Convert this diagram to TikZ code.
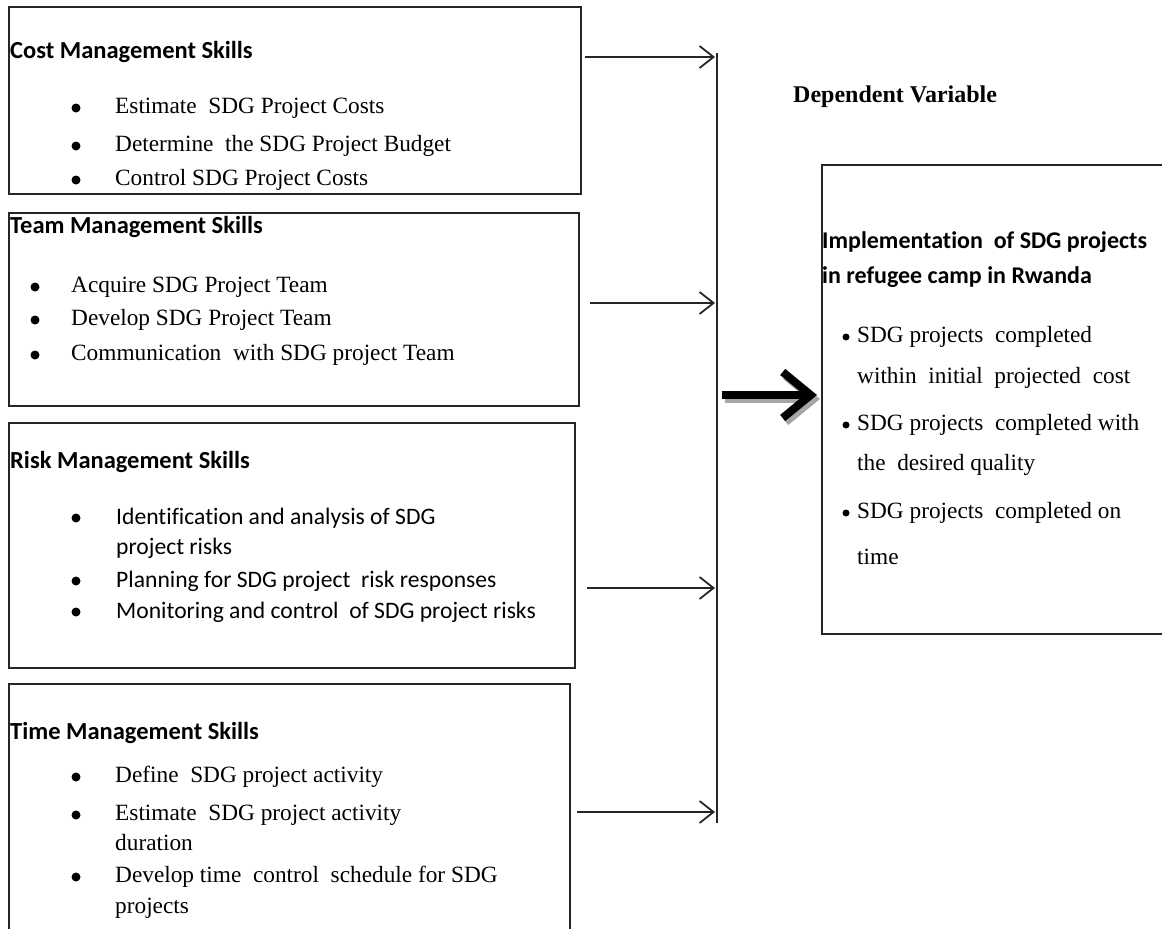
\documentclass[tikz,border=0pt]{standalone}
\usepackage{fontspec}
\setmainfont{Liberation Serif}
\newfontfamily\calfont[Ligatures=NoCommon]{Carlito}
\usetikzlibrary{arrows.meta}
\tikzset{
  box/.style={draw=black!85, line width=1.6pt, anchor=north west, inner sep=0pt},
  ttl/.style={anchor=west, inner sep=0pt, font=\calfont\bfseries\fontsize{24.5}{28}\selectfont},
  rttl/.style={anchor=west, inner sep=0pt, font=\calfont\bfseries\fontsize{24}{28}\selectfont},
  itm/.style={anchor=west, inner sep=0pt, font=\fontsize{23.3}{27}\selectfont},
  citm/.style={anchor=west, inner sep=0pt, font=\calfont\fontsize{23.6}{27}\selectfont},
  bul/.style={circle, fill=black, inner sep=0pt, minimum size=9pt},
  sbul/.style={circle, fill=black, inner sep=0pt, minimum size=7pt},
  thin/.style={draw=black!85, line width=1.8pt, -{Straight Barb[length=14pt,width=22pt,line width=1.8pt]}},
  bar/.style={draw=black!85, line width=1.8pt},
  thick/.style={draw=black, line width=8pt, -{Straight Barb[length=28pt,width=46pt,line width=8pt]}}
}
\begin{document}
\begin{tikzpicture}[x=1pt,y=-1pt]
\clip (0,0) rectangle (1162,929);
\fill[white] (0,0) rectangle (1162,929);

% boxes
\node[box, minimum width=572pt, minimum height=187pt] (cost) at (8,6) {};
\node[box, minimum width=570pt, minimum height=193pt] (team) at (8,212) {};
\node[box, minimum width=566pt, minimum height=245pt] (risk) at (8,422) {};
\node[box, minimum width=561pt, minimum height=280pt] (time) at (8,683) {};
\node[box, minimum width=380pt, minimum height=469pt] (dep) at (821,164) {};

% cost
\node[ttl] (costT) at (10,52) {Cost Management Skills};
\node[bul] (cb1) at (76,108) {}; \node[itm] (c1) at (115,108) {Estimate\ \ SDG Project Costs};
\node[bul] (cb2) at (76,146) {}; \node[itm] (c2) at (115,146) {Determine\ \ the SDG Project Budget};
\node[bul] (cb3) at (76,180) {}; \node[itm] (c3) at (115,180) {Control SDG Project Costs};

% team
\node[ttl] (teamT) at (10,227) {Team Management Skills};
\node[bul] (tb1) at (35,287) {}; \node[itm] (t1) at (71,287) {Acquire SDG Project Team};
\node[bul] (tb2) at (35,320) {}; \node[itm] (t2) at (71,320) {Develop SDG Project Team};
\node[bul] (tb3) at (35,355) {}; \node[itm] (t3) at (71,355) {Communication\ \ with SDG project Team};

% risk
\node[ttl] (riskT) at (10,462) {Risk Management Skills};
\node[bul] (rb1) at (76,518) {}; \node[citm] (r1) at (116,518) {Identification and analysis of SDG};
\node[citm] (r1b) at (116,548) {project risks};
\node[bul] (rb2) at (76,581) {}; \node[citm] (r2) at (116,581) {Planning for SDG project\ \ risk responses};
\node[bul] (rb3) at (76,612) {}; \node[citm] (r3) at (116,612) {Monitoring and control\ \ of SDG project risks};

% time
\node[ttl] (timeT) at (10,733) {Time Management Skills};
\node[bul] (mb1) at (76,777) {}; \node[itm] (m1) at (115,777) {Define\ \ SDG project activity};
\node[bul] (mb2) at (76,815) {}; \node[itm] (m2) at (115,815) {Estimate\ \ SDG project activity};
\node[itm] (m2b) at (115,843) {duration};
\node[bul] (mb3) at (76,877) {}; \node[itm] (m3) at (115,877) {Develop time\ \ control\ \ schedule for SDG};
\node[itm] (m3b) at (115,908) {projects};

% dependent
\node[anchor=west, inner sep=0pt, font=\bfseries\fontsize{24}{28}\selectfont] (depH) at (793,97) {Dependent Variable};
\node[rttl] (d0) at (822,242) {Implementation\ \ of SDG projects};
\node[rttl] (d0b) at (822,277) {in refugee camp in Rwanda};
\node[sbul] (db1) at (846,337) {}; \node[itm] (d1) at (857,337) {SDG projects\ \ completed};
\node[itm] (d1b) at (857,378) {within\ \ initial\ \ projected\ \ cost};
\node[sbul] (db2) at (846,425) {}; \node[itm] (d2) at (857,425) {SDG projects\ \ completed with};
\node[itm] (d2b) at (857,465) {the\ \ desired quality};
\node[sbul] (db3) at (846,513) {}; \node[itm] (d3) at (857,513) {SDG projects\ \ completed on};
\node[itm] (d3b) at (857,557) {time};

% bar and arrows
\coordinate (bartop) at (717,53);
\coordinate (barbot) at (717,823);
\draw[bar] (bartop) -- (barbot);
\coordinate (a1s) at (585,57);  \coordinate (a1e) at (715,57);
\coordinate (a2s) at (590,303); \coordinate (a2e) at (715,303);
\coordinate (a3s) at (587,588); \coordinate (a3e) at (715,588);
\coordinate (a4s) at (577,812); \coordinate (a4e) at (715,812);
\draw[thin] (a1s) -- (a1e);
\draw[thin] (a2s) -- (a2e);
\draw[thin] (a3s) -- (a3e);
\draw[thin] (a4s) -- (a4e);
\coordinate (bs) at (722,395);
\coordinate (bsh) at (725,399);
\draw[thick, draw=black!35] (bsh) -- ([xshift=-1pt]dep.west |- bsh);
\draw[thick] (bs) -- ([xshift=-4pt]dep.west |- bs);
\end{tikzpicture}
\end{document}
